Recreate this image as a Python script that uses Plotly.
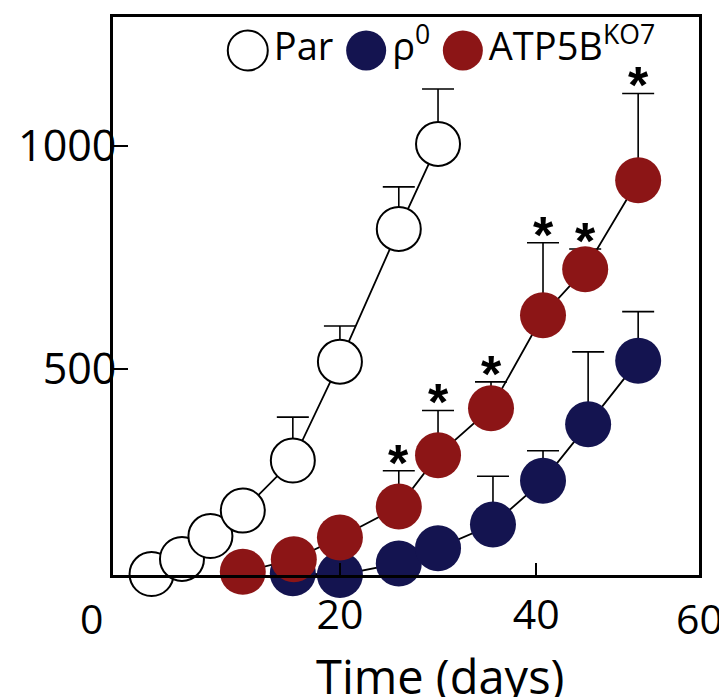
import plotly.graph_objects as go

# ---- data ----
days_par = [0.8, 3.9, 6.8, 10.1, 15.2, 20.0, 26.0, 30.0]
vol_par = [42, 76, 127, 184, 296, 517, 814, 1004]
err_par = [0, 0, 0, 0, 97, 80, 94, 123]

days_rho = [15.2, 20.0, 26.0, 30.0, 35.6, 40.7, 45.3, 50.4]
vol_rho = [44, 40, 66, 100, 153, 251, 377, 519]
err_rho = [0, 0, 0, 0, 108, 67, 162, 110]

days_atp = [10.1, 15.3, 20.0, 26.0, 30.0, 35.4, 40.7, 45.0, 50.4]
vol_atp = [47, 75, 124, 193, 308, 413, 621, 724, 923]
err_atp = [0, 0, 0, 80, 100, 59, 162, 45, 194]
sig_atp = [False, False, False, True, True, True, True, True, True]

series_names = ["Par", "ρ<sup>0</sup>", "ATP5B<sup>KO7</sup>"]
x_tick_vals = [20, 40]
x_tick_text = ["20", "40"]
x_edge_labels = ["0", "60"]
y_tick_vals = [500, 1000]
y_tick_text = ["500", "1000"]
x_title = "Time (days)"

FONT = "Open Sans"
NAVY = "#141450"
RED = "#8c1516"
WHITE = "#ffffff"

fig = go.Figure()


def add_series(x, y, err, fill, edge, size):
    fig.add_trace(go.Scatter(
        x=x, y=y, mode="lines+markers",
        line=dict(color="black", width=1.8),
        marker=dict(size=size, color=fill, line=dict(color=edge, width=2 if fill == WHITE else 0)),
        error_y=dict(type="data", symmetric=False, array=err, arrayminus=[0] * len(err),
                     color="black", thickness=1.6, width=16),
        cliponaxis=False, showlegend=False, hoverinfo="skip",
    ))


add_series(days_rho, vol_rho, err_rho, NAVY, NAVY, 46)
add_series(days_atp, vol_atp, err_atp, RED, RED, 46)
add_series(days_par, vol_par, err_par, WHITE, "black", 44)

# custom legend drawn on an auxiliary unit axis pair
fig.add_trace(go.Scatter(
    x=[0.230, 0.432, 0.597], y=[0.94, 0.94, 0.94], xaxis="x2", yaxis="y2",
    mode="markers+text", text=series_names, textposition="middle right",
    textfont=dict(family=FONT, size=38, color="black"),
    marker=dict(size=40, color=[WHITE, NAVY, RED],
                line=dict(color=["black", NAVY, RED], width=[2, 0, 0])),
    cliponaxis=False, showlegend=False, hoverinfo="skip",
))

annotations = []
for d, v, e, s in zip(days_atp, vol_atp, err_atp, sig_atp):
    if s:
        annotations.append(dict(x=d, y=v + e, xref="x", yref="y", text="<b>*</b>",
                                showarrow=False, yanchor="middle", yshift=8,
                                font=dict(family="Liberation Sans", size=52, color="black")))

# edge tick labels of the x axis
annotations.append(dict(x=0, y=0, xref="paper", yref="paper", text=x_edge_labels[0],
                        xanchor="right", yanchor="top", xshift=-8, yshift=-13, showarrow=False,
                        font=dict(family=FONT, size=41, color="black")))
annotations.append(dict(x=1, y=0, xref="paper", yref="paper", text=x_edge_labels[1],
                        xanchor="center", yanchor="top", yshift=-13, showarrow=False,
                        font=dict(family=FONT, size=41, color="black")))
annotations.append(dict(x=0.558, y=-0.181, xref="paper", yref="paper", text=x_title,
                        xanchor="center", yanchor="middle", showarrow=False,
                        font=dict(family=FONT, size=47, color="black")))

# the page adds an 8 px body margin, so the figure is sized and placed to compensate
fig.update_layout(
    width=719, height=689,
    margin=dict(l=105, r=28, t=9, b=122, autoexpand=False),
    plot_bgcolor="white", paper_bgcolor="white",
    showlegend=False,
    annotations=annotations,
    xaxis=dict(range=[-3.13, 56.6], tickvals=x_tick_vals, ticktext=x_tick_text,
               ticks="inside", ticklen=12, tickwidth=2, tickcolor="black",
               showline=True, mirror=True, linewidth=3, linecolor="black",
               showgrid=False, zeroline=False, ticklabelstandoff=2, automargin=False,
               tickfont=dict(family=FONT, size=41, color="black")),
    yaxis=dict(range=[40, 1288], tickvals=y_tick_vals, ticktext=y_tick_text,
               ticks="inside", ticklen=15, tickwidth=2, tickcolor="black",
               showline=True, mirror=True, linewidth=3, linecolor="black",
               showgrid=False, zeroline=False, ticklabelstandoff=-15, automargin=False,
               tickfont=dict(family=FONT, size=43, color="black")),
    xaxis2=dict(range=[0, 1], overlaying="x", anchor="y2", visible=False, automargin=False),
    yaxis2=dict(range=[0, 1], overlaying="y", anchor="x2", visible=False, automargin=False),
)

fig.write_html("out.html")
